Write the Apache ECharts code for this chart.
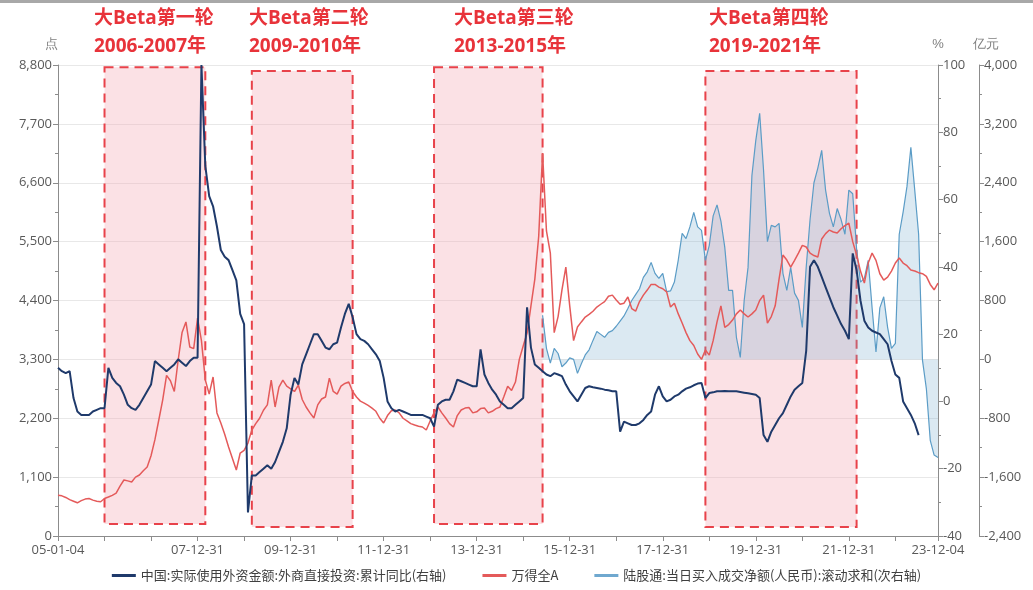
<!DOCTYPE html>
<html>
<head>
<meta charset="utf-8">
<script src="https://cdn.jsdelivr.net/npm/echarts@6/dist/echarts.min.js"></script>
<style>
html,body{margin:0;padding:0;background:#fff;}
#c{width:1033px;height:590px;}
</style>
</head>
<body>
<div id="c"></div>
<script>
// ---- data ----
const seriesNames = ['中国:实际使用外资金额:外商直接投资:累计同比(右轴)', '万得全A', '陆股通:当日买入成交净额(人民币):滚动求和(次右轴)'];
const firstDate = '05-01-04';
const lastDate = '23-12-04';
const monthCount = 227; // month-ends after first date

// 万得全A (点), monthly
const windA = [
  760,750,720,680,650,620,660,690,700,670,650,640,
  700,728,760,800,930,1046,1030,1009,1100,1140,1220,1289,
  1500,1800,2167,2540,3000,2900,2700,3288,3800,4000,3531,3500,
  4072,3650,2914,2650,2970,2300,2111,1900,1663,1450,1233,1550,
  1600,1737,1980,2100,2200,2350,2450,2914,2410,2783,2914,2800,
  2750,2700,2820,2550,2410,2300,2204,2450,2560,2597,2950,2700,
  2650,2800,2850,2877,2700,2597,2520,2484,2440,2390,2330,2200,
  2111,2250,2340,2354,2300,2200,2150,2100,2073,2050,2036,1980,
  2150,2300,2410,2300,2204,2100,2036,2250,2354,2390,2400,2300,
  2320,2380,2390,2300,2330,2380,2410,2600,2800,2720,2877,3300,
  3550,3792,4300,4800,5600,7154,5700,5286,3800,4100,4600,5025,
  4300,3650,3904,4000,4091,4140,4200,4278,4330,4380,4480,4500,
  4408,4330,4350,4465,4250,4200,4380,4500,4595,4700,4700,4651,
  4620,4560,4278,4350,4150,3979,3800,3650,3560,3400,3300,3475,
  3380,3650,4000,4300,3900,3950,4035,4150,4222,4150,4091,4150,
  4222,4400,4500,3979,4100,4300,4800,5250,5156,5025,5150,5286,
  5430,5400,5286,5240,5212,5550,5650,5716,5680,5660,5740,5800,
  5847,5500,5250,4950,4726,5100,5286,5150,4900,4782,4838,4950,
  5100,5193,5100,5050,4969,4950,4920,4900,4850,4700,4600,4726
];

// FDI cumulative YoY (%)
const fdiYoY = [
  10,9,8.4,9,1,-3,-4,-4,-4,-3,-2.5,-2,
  -2,10,7,5.5,4.5,2,-1,-2,-2.5,-1,1,3,
  5,12,11,10,9,10,11,12.5,11.5,10.5,12,13,
  13,100,70,61,58,52,45,43,42,39,36,26,
  23,-33,-22,-22,-21,-20,-19,-20,-18,-15,-12,-8,
  2,7,5,11,14,17,20,20,18,16,15.5,17,
  17.5,22,26,29,25,20,18.5,18,17,15.5,14,12,
  7,0,-2,-3,-2.5,-3,-3.5,-4,-4,-4,-4,-4.5,
  -5,-7.5,-1,0,0.5,0.5,3,6.5,6,5.5,5,4.5,
  4.5,15.5,8,5.5,3.5,2,0,-1,-2,-2,-1,0,
  1,28,16,11,10,9,8,7.5,8.4,8,7.5,5,
  3,1.5,0,2,4,4.5,4.2,4,3.8,3.5,3.3,3,
  3,-9,-6,-6.5,-7,-7,-6.5,-5.5,-4,-3,2,4.5,
  1.5,0,0.5,1.5,2,3,3.8,4.2,4.8,5.3,5.5,1,
  2.5,2.7,3,3,3.1,3,3,3,2.8,2.6,2.4,2.2,
  2,1,-10,-12,-9,-7,-5,-3.5,-1,1.5,3.5,4.5,
  5.5,15,40,42,40,37,34,31,28,25.5,23,21,
  18.5,44,39,30,24,22,21,20.5,20,18.5,17,12,
  8,7,0,-2,-4,-6.5,-10
];

// 陆股通 rolling net buy (亿元), starts at month index hkStart
const hkStart = 125;
const hkFlow = [
  600,150,-50,150,80,-100,-50,
  20,0,-190,-60,60,130,258,380,340,300,367,390,
  450,520,590,690,800,880,960,1114,1190,1318,1169,1100,
  1169,920,930,1050,1350,1712,1640,1800,1998,1800,1753,1345,
  1550,1950,2100,1880,1522,938,938,300,27,800,1250,2500,
  2976,3343,2569,1600,1820,1800,1848,1169,938,1250,900,802,
  435,1250,1900,2400,2600,2840,2300,1984,1800,2050,1900,1700,
  2300,2250,1500,1050,1100,1345,700,100,700,850,435,150,
  217,1700,2000,2350,2881,2300,1700,-14,-400,-1100,-1300,-1332
];

// Beta periods
const betaTitles = ['大Beta第一轮','大Beta第二轮','大Beta第三轮','大Beta第四轮'];
const betaYears = ['2006-2007年','2009-2010年','2013-2015年','2019-2021年'];
const betaStart = [12, 50, 97, 167];
const betaEnd = [38, 76, 125, 206];
const betaTop = [8760, 8690, 8760, 8690];
const betaBottom = [224, 168, 224, 168];
const betaTextX = [94, 249, 454, 709];

// ---- categories (month-end dates) ----
const categories = [firstDate];
for (let m = 0; m < monthCount; m++) {
  const y = 2005 + Math.floor(m / 12), mo = m % 12 + 1;
  const d = new Date(y, mo, 0).getDate();
  categories.push(String(y).slice(2) + '-' + String(mo).padStart(2, '0') + '-' + String(d).padStart(2, '0'));
}
categories[categories.length - 1] = lastDate;
const lastIdx = categories.length - 1;

const hkData = categories.map((c, i) => i < hkStart ? null : (hkFlow[i - hkStart] ?? null));

const fmt = v => Number(v).toLocaleString('en-US');
const axisLabelStyle = {color: '#595959', fontSize: 13, fontFamily: 'Open Sans, Noto Sans CJK SC'};
const axisLineStyle = {show: true, lineStyle: {color: '#8c8c8c'}};

const chart = echarts.init(document.getElementById('c'));

const markData = betaStart.map((s, i) => [
  {xAxis: categories[s], yAxis: betaTop[i]},
  {xAxis: categories[betaEnd[i]], yAxis: betaBottom[i]}
]);

const graphics = [
  {type: 'rect', shape: {x: 0, y: 0, width: 1033, height: 3}, style: {fill: '#a8a8a8'}},
];
betaTitles.forEach((t, i) => {
  graphics.push({type: 'text', left: betaTextX[i], top: 9, style: {text: t, fill: '#e8333a', font: 'bold 19px "Open Sans", "Noto Sans CJK SC"'}});
  graphics.push({type: 'text', left: betaTextX[i], top: 37, style: {text: betaYears[i], fill: '#e8333a', font: 'bold 19px "Open Sans", "Noto Sans CJK SC"'}});
});

chart.setOption({
  animation: false,
  backgroundColor: '#fff',
  grid: {left: 58, right: 95, top: 65, bottom: 54, containLabel: false},
  legend: {
    bottom: 3, left: 'center', itemGap: 36, itemWidth: 24, itemHeight: 3, icon: 'rect',
    textStyle: {color: '#404040', fontSize: 13, fontFamily: 'Noto Sans CJK SC'},
    data: seriesNames
  },
  graphic: graphics,
  xAxis: {
    type: 'category', data: categories, boundaryGap: false,
    axisLine: axisLineStyle,
    axisTick: {show: true, length: 5, lineStyle: {color: '#8c8c8c'},
      interval: (i) => i === 0 || i === lastIdx || (i % 12 === 0 && i < lastIdx - 6)},
    axisLabel: Object.assign({}, axisLabelStyle, {
      margin: 8,
      interval: (i) => i === 0 || i === lastIdx || (i >= 36 && i <= 204 && i % 24 === 12)
    }),
    splitLine: {show: false}
  },
  yAxis: [
    {
      type: 'value', min: 0, max: 8800, interval: 1100, position: 'left',
      name: '点', nameLocation: 'end', nameGap: 14,
      nameTextStyle: {color: '#7f7f7f', fontSize: 13, align: 'right', padding: [0, 0, 0, 0]},
      axisLine: axisLineStyle,
      axisTick: {show: true, length: 5, lineStyle: {color: '#8c8c8c'}},
      minorTick: {show: true, splitNumber: 2, length: 3, lineStyle: {color: '#8c8c8c'}},
      axisLabel: Object.assign({}, axisLabelStyle, {formatter: fmt, margin: 6}),
      splitLine: {show: true, lineStyle: {color: '#e8e8e8'}}
    },
    {
      type: 'value', min: -40, max: 100, interval: 20, position: 'right',
      name: '%', nameLocation: 'end', nameGap: 14,
      nameTextStyle: {color: '#7f7f7f', fontSize: 13},
      axisLine: axisLineStyle,
      axisTick: {show: true, length: 5, lineStyle: {color: '#8c8c8c'}},
      minorTick: {show: true, splitNumber: 2, length: 3, lineStyle: {color: '#8c8c8c'}},
      axisLabel: Object.assign({}, axisLabelStyle, {margin: 5}),
      splitLine: {show: false}
    },
    {
      type: 'value', min: -2400, max: 4000, interval: 800, position: 'right', offset: 41,
      name: '亿元', nameLocation: 'end', nameGap: 14,
      nameTextStyle: {color: '#7f7f7f', fontSize: 13, padding: [0, 0, 0, 14]},
      axisLine: axisLineStyle,
      axisTick: {show: true, length: 5, lineStyle: {color: '#8c8c8c'}},
      minorTick: {show: true, splitNumber: 2, length: 3, lineStyle: {color: '#8c8c8c'}},
      axisLabel: Object.assign({}, axisLabelStyle, {formatter: fmt, margin: 5}),
      splitLine: {show: false}
    }
  ],
  series: [
    {
      name: seriesNames[2], type: 'line', yAxisIndex: 2, data: hkData,
      symbol: 'none', color: '#6fa8cf', z: 2,
      lineStyle: {color: '#5b9cc6', width: 1.2},
      areaStyle: {color: 'rgba(120,172,208,0.38)'}
    },
    {
      name: seriesNames[1], type: 'line', yAxisIndex: 0, data: windA,
      symbol: 'none', color: '#e45a5a', z: 3,
      lineStyle: {color: '#e45a5a', width: 1.5},
      markArea: {
        silent: true,
        itemStyle: {color: 'rgba(244,170,180,0.35)', borderColor: '#e8424a', borderWidth: 2, borderType: [9, 6]},
        data: markData
      }
    },
    {
      name: seriesNames[0], type: 'line', yAxisIndex: 1, data: fdiYoY,
      symbol: 'none', color: '#1f3a6b', z: 4,
      lineStyle: {color: '#1f3a6b', width: 2}
    }
  ]
});
</script>
</body>
</html>
